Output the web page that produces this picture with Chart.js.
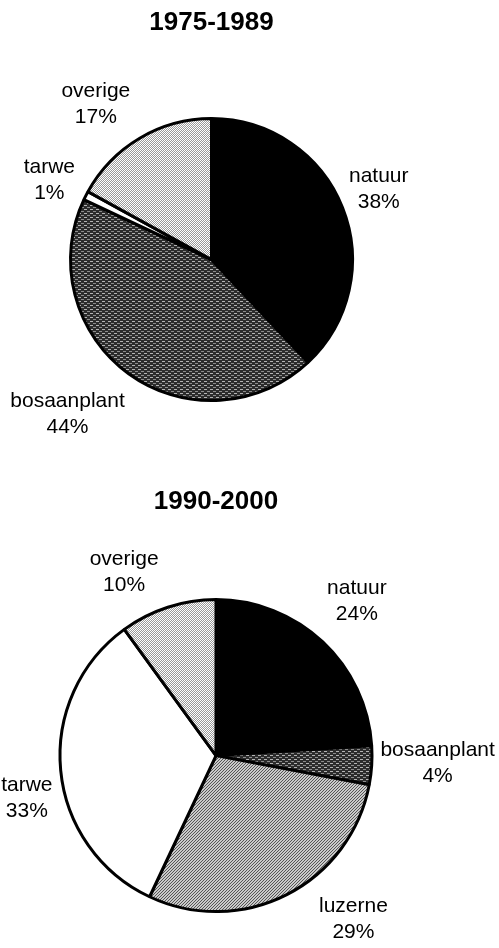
<!DOCTYPE html>
<html>
<head>
<meta charset="utf-8">
<script src="https://cdn.jsdelivr.net/npm/chart.js@4.4.1/dist/chart.umd.min.js"></script>
<style>
  html, body { margin: 0; padding: 0; background: #ffffff; }
  body { width: 499px; height: 948px; position: relative; overflow: hidden; }
  canvas { position: absolute; left: 0; }
  #c1 { top: 0; }
  #c2 { top: 474px; }
</style>
</head>
<body>
<canvas id="c1" width="499" height="474"></canvas>
<canvas id="c2" width="499" height="474"></canvas>
<script>
// ---- Data ----
const TITLE_1 = '1975-1989';
const CATEGORIES_1 = ['natuur', 'bosaanplant', 'tarwe', 'overige'];
const VALUES_1 = [38, 44, 1, 17];

const TITLE_2 = '1990-2000';
const CATEGORIES_2 = ['natuur', 'bosaanplant', 'luzerne', 'tarwe', 'overige'];
const VALUES_2 = [24, 4, 29, 33, 10];

// ---- Styles (fills per category) ----
function makePattern(w, h, draw) {
  const c = document.createElement('canvas');
  c.width = w; c.height = h;
  const x = c.getContext('2d');
  draw(x);
  return x.createPattern(c, 'repeat');
}
const FILLS = {
  natuur: '#000000',
  bosaanplant: makePattern(6, 4, (x) => {
    x.fillStyle = '#2c2c2c'; x.fillRect(0, 0, 6, 4);
    x.fillStyle = '#b4b4b4'; x.fillRect(0, 1, 3, 1);
    x.fillStyle = '#8c8c8c'; x.fillRect(3, 3, 3, 1);
  }),
  tarwe: '#ffffff',
  overige: makePattern(2, 2, (x) => {
    x.fillStyle = '#ffffff'; x.fillRect(0, 0, 2, 2);
    x.fillStyle = '#999999'; x.fillRect(1, 0, 1, 1); x.fillRect(0, 1, 1, 1);
  }),
  luzerne: makePattern(3, 3, (x) => {
    x.fillStyle = '#cacaca'; x.fillRect(0, 0, 3, 3);
    x.fillStyle = '#555555';
    for (let i = 0; i < 3; i++) x.fillRect(i, (3 - i) % 3, 1, 1);
  })
};

const outLabels = {
  id: 'outLabels',
  afterDatasetsDraw(chart, args, opts) {
    const ctx = chart.ctx;
    const meta = chart.getDatasetMeta(0);
    const vals = chart.data.datasets[0].data;
    ctx.save();
    ctx.fillStyle = '#000';
    ctx.font = '21px "Liberation Sans", Arial, sans-serif';
    ctx.textAlign = 'center';
    ctx.textBaseline = 'alphabetic';
    meta.data.forEach((arc, i) => {
      const p = arc.getProps(['x', 'y', 'startAngle', 'endAngle', 'outerRadius'], true);
      const mid = (p.startAngle + p.endAngle) / 2;
      const d = p.outerRadius + opts.distance;
      const n = opts.nudges[i] || [0, 0];
      const ax = p.x + Math.cos(mid) * d + n[0];
      const ay = p.y + Math.sin(mid) * d + n[1];
      ctx.fillText(chart.data.labels[i], ax, ay - 5.5);
      ctx.fillText(vals[i] + '%', ax, ay - 5.5 + opts.lineGap);
    });
    ctx.restore();
  }
};

function makeChart(id, title, cats, vals, radius, padding, titlePad, nudges) {
  return new Chart(document.getElementById(id), {
    type: 'pie',
    data: {
      labels: cats,
      datasets: [{
        data: vals,
        backgroundColor: cats.map(c => FILLS[c]),
        borderColor: '#000000',
        borderWidth: 3,
        radius: radius
      }]
    },
    options: {
      responsive: false,
      animation: false,
      devicePixelRatio: 1,
      layout: { padding: padding },
      plugins: {
        legend: { display: false },
        tooltip: { enabled: false },
        title: {
          display: true,
          text: title,
          color: '#000',
          font: { family: '"Liberation Sans", Arial, sans-serif', size: 26, weight: 'bold', lineHeight: 1.2 },
          padding: titlePad
        },
        outLabels: { distance: 41, lineGap: 26, nudges: nudges }
      }
    },
    plugins: [outLabels]
  });
}

makeChart('c1', TITLE_1, CATEGORIES_1, VALUES_1, 141,
  { left: 0, right: 76, top: 0, bottom: 0 },
  { top: 7, bottom: 7 },
  [[-2, -5], [-37, 6], [0, 2], [-23, 0]]);

makeChart('c2', TITLE_2, CATEGORIES_2, VALUES_2, 156,
  { left: 0, right: 67, top: 0, bottom: 0 },
  { top: 12, bottom: 46 },
  [[6, -12], [25, -6], [48, -14], [7, 22], [-31, 2]]);
</script>
</body>
</html>
